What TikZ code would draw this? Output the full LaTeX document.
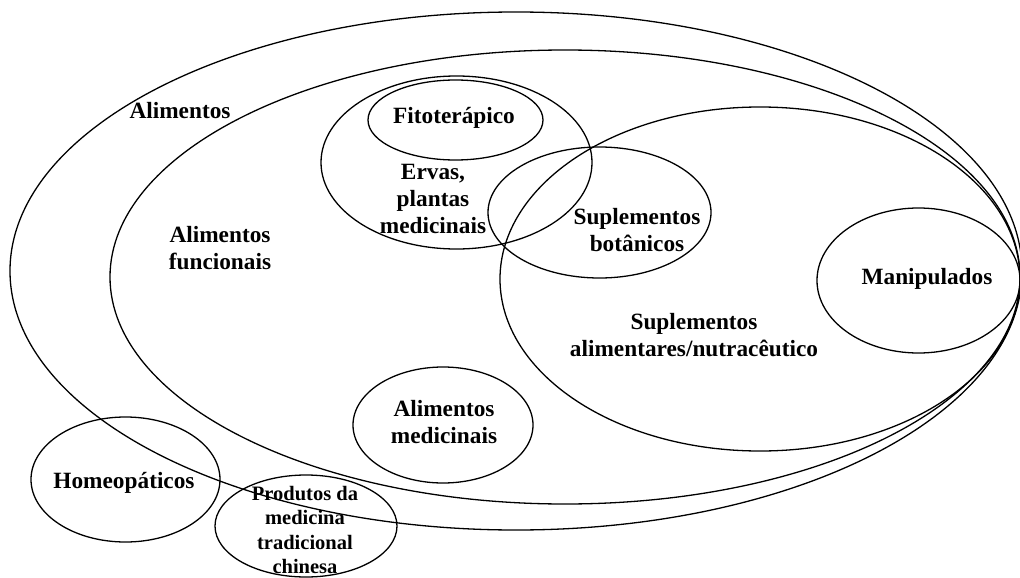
\documentclass[tikz,border=0pt]{standalone}
\usepackage{fontspec}
\setmainfont{Liberation Serif}
\usetikzlibrary{shapes.geometric}

\tikzset{
  set/.style={draw=black, line width=1.3pt, ellipse, inner sep=0pt, outer sep=0pt},
  setlabel/.style={font=\bfseries\fontsize{23.3}{27}\selectfont, align=center, inner sep=0pt},
  smalllabel/.style={font=\bfseries\fontsize{20.5}{24.5}\selectfont, align=center, inner sep=0pt}
}

\begin{document}
\begin{tikzpicture}[x=1pt, y=-1pt]
  \path[use as bounding box, clip] (0,0) rectangle (1020,578);

  % nested food categories
  \node[set, minimum width=1012pt, minimum height=518pt] (alimentos) at (516,271) {};
  \node[set, minimum width=910pt, minimum height=454pt] (funcionais) at (565,277) {};

  % herbs and phytotherapy
  \node[set, minimum width=271pt, minimum height=173pt] (ervas) at (456.5,162.5) {};
  \node[set, minimum width=175pt, minimum height=80pt] (fito) at (455.5,120) {};

  % supplements
  \node[set, minimum width=520pt, minimum height=344pt] (suplementos) at (760,279) {};
  \node[set, minimum width=223pt, minimum height=131pt] (botanicos) at (599.5,212.5) {};
  \node[set, minimum width=203pt, minimum height=145pt] (manipulados) at (918.5,280.5) {};

  % remaining groups
  \node[set, minimum width=180pt, minimum height=116pt] (medicinais) at (443,425) {};
  \node[set, minimum width=189pt, minimum height=125pt] (homeo) at (125.5,479.5) {};
  \node[set, minimum width=182pt, minimum height=102pt] (chinesa) at (306,526) {};

  % labels
  \node[setlabel] (tAlimentos) at (180,111) {Alimentos};
  \node[setlabel] (tFuncionais) at (220,248) {Alimentos\\funcionais};
  \node[setlabel] (tFito) at (454,118) {Fitoterápico};
  \node[setlabel] (tErvas) at (433,199) {Ervas,\\plantas\\medicinais};
  \node[setlabel] (tBotanicos) at (637,230) {Suplementos\\botânicos};
  \node[setlabel] (tManipulados) at (927,279) {Manipulados};
  \node[setlabel] (tSuplementos) at (694,335) {Suplementos\\alimentares/nutracêutico};
  \node[setlabel] (tMedicinais) at (444,422) {Alimentos\\medicinais};
  \node[setlabel] (tHomeo) at (124,483) {Homeopáticos};
  \node[smalllabel] (tChinesa) at (305,530) {Produtos da\\medicina\\tradicional\\chinesa};
\end{tikzpicture}
\end{document}
